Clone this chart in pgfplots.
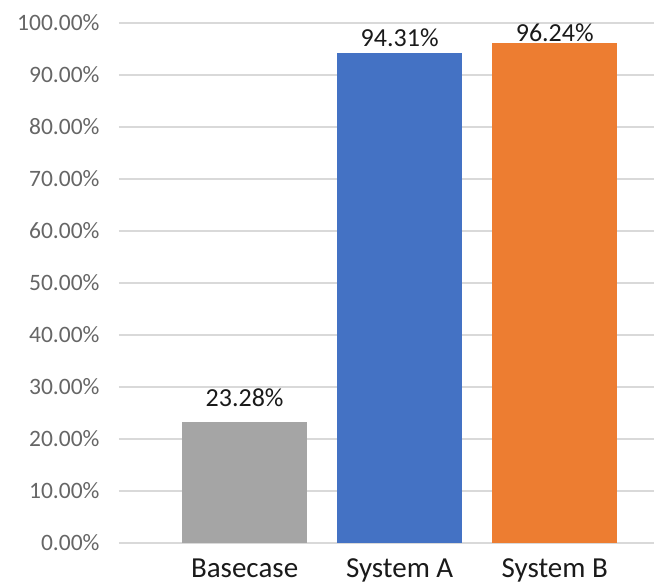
\documentclass[border=0pt]{standalone}
\usepackage{pgfplots}
\pgfplotsset{compat=1.18}
\usepackage{fontspec}
\setmainfont{Carlito}
\usetikzlibrary{calc}
\definecolor{cgray}{HTML}{A5A5A5}
\definecolor{cblue}{HTML}{4472C4}
\definecolor{corange}{HTML}{ED7D31}
\definecolor{gridc}{HTML}{D9D9D9}
\definecolor{tickc}{HTML}{666666}
\definecolor{labc}{HTML}{1A1A1A}
\begin{document}
\begin{tikzpicture}
\begin{axis}[
  scale only axis,
  width=535pt, height=520pt,
  xmin=-0.81, xmax=2.64,
  ymin=0, ymax=100,
  ytick={0,10,...,100},
  xtick={0,1,2},
  xticklabels={Basecase,System A,System B},
  axis line style={draw=none},
  major tick length=0pt,
  ymajorgrids,
  grid style={gridc, line width=1.3pt},
  /pgf/number format/assume math mode=true,
  yticklabel={\pgfmathprintnumber[fixed,fixed zerofill,precision=2]{\tick}\%},
  yticklabel style={font=\fontsize{23.5}{26}\selectfont, text=tickc, anchor=east, xshift=-16pt},
  xticklabel style={font=\fontsize{29}{32}\selectfont, text=labc, anchor=base, yshift=-35pt},
  bar width=125pt,
  ybar, bar shift=0pt,
  nodes near coords={\pgfmathprintnumber[fixed,fixed zerofill,precision=2]{\pgfplotspointmeta}\%},
  nodes near coords style={font=\fontsize{26}{30}\selectfont, text=labc, anchor=center},
  clip=false,
]
\addplot[fill=cgray, draw=none, nodes near coords style={yshift=24pt}] coordinates {(0,23.28)};
\addplot[fill=cblue, draw=none, nodes near coords style={yshift=15pt}] coordinates {(1,94.31)};
\addplot[fill=corange, draw=none, nodes near coords style={yshift=10pt}] coordinates {(2,96.24)};
\coordinate (LL) at (rel axis cs:0,0);
\coordinate (UR) at (rel axis cs:1,1);
\end{axis}
\pgfresetboundingbox
\path[use as bounding box] ($(LL)+(-119pt,-43pt)$) rectangle ($(UR)+(0pt,23pt)$);
\end{tikzpicture}
\end{document}
